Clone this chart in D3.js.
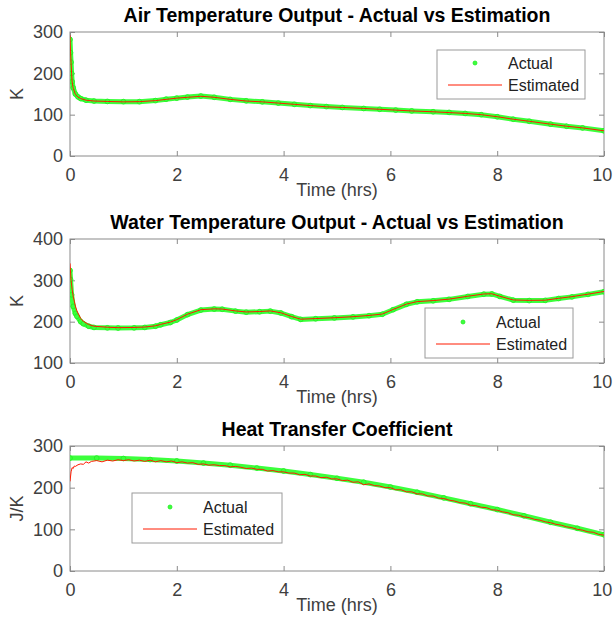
<!DOCTYPE html>
<html><head><meta charset="utf-8">
<script src="https://cdn.jsdelivr.net/npm/d3@7"></script>
<style>
body{margin:0;background:#fff}
text{font-family:"Liberation Sans",Arial,Helvetica,sans-serif}
</style></head>
<body>
<svg id="c" width="613" height="628"></svg>
<script>
const xTicks=[0,2,4,6,8,10];
const legendLabels=["Actual","Estimated"];

const airTime=[0,0.01,0.02,0.03,0.04,0.06,0.1,0.15,0.2,0.3,0.45,0.7,1.0,1.3,1.6,1.8,2.0,2.2,2.45,2.7,3.0,3.3,3.6,3.9,4.2,4.5,4.8,5.1,5.5,5.8,6.1,6.4,6.8,7.1,7.4,7.7,8.0,8.3,8.6,9.0,9.3,9.6,10];
const airActual=[282,250,227,200,180,165,150,143,139,135,133,132,131.5,131.5,134,137.5,140,142.5,145,142,137,133.5,131,128,125,122,119.5,117.5,115,113,111,109,107,105.5,103,100,95,89,84,77,72,68,61];
const airEstimated=[292,252,226,199,179,164,149.5,142.5,139,135,133,132,131,131.5,134,137,140,142,144.5,142,137,133,131,128,125,122,119,117.5,115,113,111,109,107,105,103,100,95,89,84,77,72,68,61];

const waterTime=[0,0.01,0.03,0.06,0.1,0.13,0.2,0.25,0.35,0.45,0.7,0.9,1.2,1.4,1.6,1.7,1.88,2.0,2.2,2.45,2.7,2.85,3.1,3.3,3.55,3.75,3.95,4.15,4.32,4.6,4.95,5.3,5.6,5.85,6.05,6.3,6.5,6.8,7.1,7.45,7.75,7.9,8.05,8.3,8.6,8.9,9.15,9.4,9.7,10];
const waterActual=[324,302,265,237,220,213,200,195,189,186,185,184.7,185,186,189,192.5,198,204,217,228,230.5,230,225.5,223,224,225.5,221,212,205.5,207,209,211.5,214.5,218,229,242,248,250.5,254,261,266.5,267,261,252,251,251.5,256,260,266,272.5];
const waterEstTime=[0,0.02,0.04,0.06,0.1,0.13,0.2,0.25,0.35,0.45,0.7,0.9,1.2,1.4,1.6,1.7,1.88,2.0,2.2,2.45,2.7,2.85,3.1,3.3,3.55,3.75,3.95,4.15,4.32,4.6,4.95,5.3,5.6,5.85,6.05,6.3,6.5,6.8,7.1,7.45,7.75,7.9,8.05,8.3,8.6,8.9,9.15,9.4,9.7,10];
const waterEstimated=[341,300,278,261,238,226,208,201,193,189,186.5,185.5,186,187,190,193.5,199,205,218,229,231,230.5,226,223.5,224.5,226,221.5,212.5,206,207.5,209.5,212,215,218.5,229.5,242.5,248.5,251,254.5,261.5,267,267.5,261.5,252.5,251.5,252,256.5,260.5,266.5,273];

const heatTime=[0,0.5,1,1.5,2,2.5,3,3.5,4,4.5,5,5.5,6,6.5,7,7.5,8,8.5,9,9.5,10];
const heatActual=[271,271,270,267.5,264,259,254,247,240,231.5,222.5,213,201.5,189,175.5,161.5,147.5,132.5,117,102.5,87];
const heatEstTime=[0,0.02,0.04,0.06,0.08,0.1,0.15,0.2,0.25,0.3,0.35,0.4,0.5,0.6,0.7,0.8,0.9,
1,1.1,1.2,1.3,1.4,1.5,1.6,1.7,1.8,1.9,2,2.1,2.2,2.3,2.4,2.5,2.6,2.7,2.8,2.9,
3,3.1,3.2,3.3,3.4,3.5,3.6,3.7,3.8,3.9,4,4.1,4.2,4.3,4.4,4.5,4.6,4.7,4.8,4.9,
5,5.1,5.2,5.3,5.4,5.5,5.6,5.7,5.8,5.9,6,6.1,6.2,6.3,6.4,6.5,6.6,6.7,6.8,6.9,
7,7.1,7.2,7.3,7.4,7.5,7.6,7.7,7.8,7.9,8,8.1,8.2,8.3,8.4,8.5,8.6,8.7,8.8,8.9,
9,9.1,9.2,9.3,9.4,9.5,9.6,9.7,9.8,9.9,10];
const heatEstimated=[215,238,248,246,252,251,255,257,256,262,259,263,265,262,266,264,267,
265,267,264,266,263,266,262,265,262,264,
260,262,259,260,256,257,254,255,253,253,
250,251,249,246,247,244,244,240,241,238,
238,235,235,231,232,228,228,224,225,221,
221,217,218,213,214,207,209,205,204,200,
200,195,195,190,190,185,185,180,180,175,
174,170,168,164,163,158,157,153,152,147,
146,142,140,135,134,130,128,124,122,118,
116,112,110,106,104,100,98,94,93,88,
86];

const panels=[
 {title:"Air Temperature Output - Actual vs Estimation",ylabel:"K",yDomain:[0,300],yTicks:[0,100,200,300],top:32,bottom:156,
  at:airTime,av:airActual,et:airTime,ev:airEstimated,leg:{x:437,y:50,w:148,h:49}},
 {title:"Water Temperature Output - Actual vs Estimation",ylabel:"K",yDomain:[100,400],yTicks:[100,200,300,400],top:239,bottom:363,
  at:waterTime,av:waterActual,et:waterEstTime,ev:waterEstimated,leg:{x:425,y:308,w:148,h:50}},
 {title:"Heat Transfer Coefficient",ylabel:"J/K",yDomain:[0,300],yTicks:[0,100,200,300],top:446,bottom:571,
  at:heatTime,av:heatActual,et:heatEstTime,ev:heatEstimated,leg:{x:132,y:493,w:150,h:50}}
];

const svg=d3.select("#c");
const L=70,R=604;
const GREEN="#3cff3c", RED="#ff1a00", AX="#8a8a8a", TXT="#404040";

panels.forEach((p,i)=>{
  const x=d3.scaleLinear().domain([0,10]).range([L,R]);
  const y=d3.scaleLinear().domain(p.yDomain).range([p.bottom,p.top]);
  const g=svg.append("g");
  const cid="clip"+i;
  svg.append("clipPath").attr("id",cid).append("rect").attr("x",L).attr("y",p.top).attr("width",R-L).attr("height",p.bottom-p.top);

  const axStyle=sel=>{sel.select(".domain").remove();sel.selectAll(".tick line").attr("stroke",AX);
    sel.selectAll(".tick text").attr("fill",TXT).style("font-size","18px").style("font-family",'"Liberation Sans",Arial,sans-serif');};
  const bx=g.append("g").attr("transform",`translate(0,${p.bottom})`).call(d3.axisBottom(x).tickValues(xTicks).tickSize(-5).tickPadding(12).tickFormat(d3.format("d"))).call(axStyle);
  bx.selectAll(".tick text").filter(d=>d===10).attr("dx","-0.12em");
  g.append("g").attr("transform",`translate(0,${p.top})`).call(d3.axisTop(x).tickValues(xTicks).tickSize(-5).tickFormat("")).call(axStyle);
  g.append("g").attr("transform",`translate(${L},0)`).call(d3.axisLeft(y).tickValues(p.yTicks).tickSize(-5).tickPadding(7).tickFormat(d3.format("d"))).call(axStyle);
  g.append("g").attr("transform",`translate(${R},0)`).call(d3.axisRight(y).tickValues(p.yTicks).tickSize(-5).tickFormat("")).call(axStyle);
  g.append("rect").attr("x",L).attr("y",p.top).attr("width",R-L).attr("height",p.bottom-p.top)
    .attr("fill","none").attr("stroke",AX).attr("stroke-width",1);

  const dg=g.append("g").attr("clip-path",`url(#${cid})`);
  const act=p.at.map((t,k)=>[t,p.av[k]]);
  const est=p.et.map((t,k)=>[t,p.ev[k]]);
  const line=d3.line().x(d=>x(d[0])).y(d=>y(d[1]));
  dg.append("path").attr("d",line(act)).attr("fill","none").attr("stroke",GREEN).attr("stroke-width",5)
    .attr("stroke-linejoin","round").attr("stroke-linecap","round");
  dg.selectAll("circle").data(act).join("circle").attr("cx",d=>x(d[0])).attr("cy",d=>y(d[1])).attr("r",2.4)
    .attr("fill",GREEN).attr("stroke","#22ee22").attr("stroke-width",0.8);
  dg.append("path").attr("d",line(est)).attr("fill","none").attr("stroke",RED).attr("stroke-width",1);

  g.append("text").attr("x",(L+R)/2).attr("y",p.top-10).attr("text-anchor","middle")
    .style("font-size","19.5px").style("font-weight","bold").attr("fill","#000").text(p.title);
  g.append("text").attr("x",(L+R)/2).attr("y",p.bottom+40).attr("text-anchor","middle")
    .style("font-size","18px").attr("fill",TXT).text("Time (hrs)");
  g.append("text").attr("transform",`translate(22.5,${(p.top+p.bottom)/2}) rotate(-90)`).attr("text-anchor","middle")
    .style("font-size","18px").attr("fill",TXT).text(p.ylabel);

  const lg=g.append("g").attr("transform",`translate(${p.leg.x},${p.leg.y})`);
  lg.append("rect").attr("width",p.leg.w).attr("height",p.leg.h).attr("fill","#fff").attr("stroke","#9a9a9a");
  const r1=Math.round(p.leg.h*0.27), r2=Math.round(p.leg.h*0.71);
  lg.append("circle").attr("cx",38).attr("cy",r1).attr("r",2).attr("fill",GREEN).attr("stroke","#22ee22").attr("stroke-width",0.8);
  lg.append("path").attr("d",`M11,${r2}H65`).attr("fill","none").style("stroke",RED).attr("stroke-width",1);
  lg.selectAll("text.lt").data(legendLabels).join("text").attr("class","lt").attr("x",71)
    .attr("y",(d,k)=>(k?r2:r1)+5.8).style("font-size","16px").attr("fill","#222").text(d=>d);
});
</script>
</body></html>
